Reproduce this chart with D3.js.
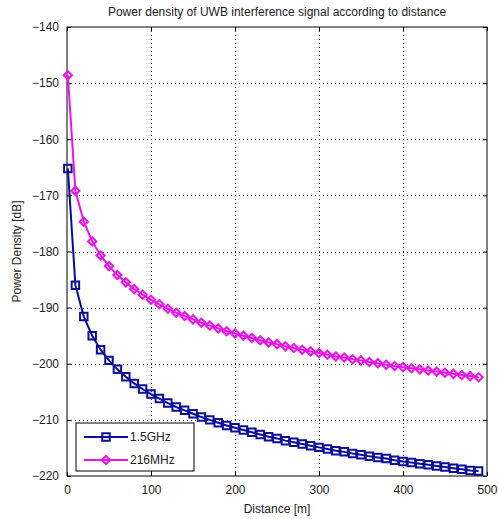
<!DOCTYPE html>
<html>
<head>
<meta charset="utf-8">
<script src="https://cdn.jsdelivr.net/npm/d3@7"></script>
<style>
  html, body { margin: 0; padding: 0; background: #fff; }
  svg { display: block; font-family: "Liberation Sans", Arial, sans-serif; }
</style>
</head>
<body>
<svg id="chart"></svg>
<script>
var distance = [1, 10, 20, 30, 40, 50, 60, 70, 80, 90,
    100, 110, 120, 130, 140, 150, 160, 170, 180, 190,
    200, 210, 220, 230, 240, 250, 260, 270, 280, 290,
    300, 310, 320, 330, 340, 350, 360, 370, 380, 390,
    400, 410, 420, 430, 440, 450, 460, 470, 480, 490];

var ghz15 = [-165.2, -186.0, -191.6, -195.0, -197.5, -199.4, -201.0, -202.3, -203.5, -204.5,
    -205.4, -206.2, -207.0, -207.7, -208.3, -208.9, -209.5, -210.0, -210.5, -211.0,
    -211.4, -211.8, -212.2, -212.6, -213.0, -213.3, -213.7, -214.0, -214.3, -214.6,
    -214.9, -215.2, -215.5, -215.7, -216.0, -216.2, -216.5, -216.7, -216.9, -217.2,
    -217.4, -217.6, -217.8, -218.0, -218.2, -218.4, -218.6, -218.8, -219.0, -219.1];

var mhz216 = [-148.6, -169.2, -174.7, -178.2, -180.7, -182.6, -184.2, -185.5, -186.7, -187.7,
    -188.6, -189.4, -190.2, -190.9, -191.5, -192.1, -192.7, -193.2, -193.7, -194.2,
    -194.6, -195.0, -195.4, -195.8, -196.2, -196.5, -196.9, -197.2, -197.5, -197.8,
    -198.1, -198.4, -198.7, -198.9, -199.2, -199.4, -199.7, -199.9, -200.2, -200.4,
    -200.6, -200.8, -201.0, -201.2, -201.4, -201.6, -201.8, -202.0, -202.2, -202.4];

var xTicks = [0, 100, 200, 300, 400, 500];
var yTicks = [-220, -210, -200, -190, -180, -170, -160, -150, -140];

var series = [
    {name: "1.5GHz", values: ghz15, color: "#0c0c9c", marker: "square"},
    {name: "216MHz", values: mhz216, color: "#ee10ee", marker: "diamond"}
];

var width = 499, height = 519;
var margin = {top: 27, right: 12, bottom: 43, left: 67};

var svg = d3.select("#chart")
    .attr("width", width)
    .attr("height", height);

var x = d3.scaleLinear()
    .domain([0, 500])
    .range([margin.left, width - margin.right]);

var y = d3.scaleLinear()
    .domain([-220, -140])
    .range([height - margin.bottom, margin.top]);

// grid
var grid = svg.append("g")
    .attr("stroke", "#333")
    .attr("stroke-width", 1)
    .attr("stroke-dasharray", "1,3");

grid.selectAll(".gx")
    .data(xTicks.slice(1, -1))
    .join("line")
    .attr("x1", d => Math.round(x(d)) + 0.5)
    .attr("x2", d => Math.round(x(d)) + 0.5)
    .attr("y1", y(-140))
    .attr("y2", y(-220));

grid.selectAll(".gy")
    .data(yTicks.slice(1, -1))
    .join("line")
    .attr("y1", d => Math.round(y(d)) + 0.5)
    .attr("y2", d => Math.round(y(d)) + 0.5)
    .attr("x1", x(0))
    .attr("x2", x(500));

// axes, MATLAB style ticks inside
var xAxis = g => g
    .attr("transform", `translate(0,${y(-220)})`)
    .call(d3.axisBottom(x).tickValues(xTicks).tickSizeInner(-4).tickSizeOuter(0).tickPadding(9))
    .call(g => g.select(".domain").remove());

var xAxisTop = g => g
    .attr("transform", `translate(0,${y(-140)})`)
    .call(d3.axisTop(x).tickValues(xTicks).tickSizeInner(-4).tickSizeOuter(0).tickFormat(""))
    .call(g => g.select(".domain").remove());

var yAxis = g => g
    .attr("transform", `translate(${x(0)},0)`)
    .call(d3.axisLeft(y).tickValues(yTicks).tickSizeInner(-4).tickSizeOuter(0).tickPadding(8))
    .call(g => g.select(".domain").remove());

var yAxisRight = g => g
    .attr("transform", `translate(${x(500)},0)`)
    .call(d3.axisRight(y).tickValues(yTicks).tickSizeInner(-4).tickSizeOuter(0).tickFormat(""))
    .call(g => g.select(".domain").remove());

[xAxis, xAxisTop, yAxis, yAxisRight].forEach(a => {
    svg.append("g")
        .call(a)
        .call(g => g.selectAll("text").attr("font-size", 12).attr("fill", "#222")
            .attr("font-family", "'Liberation Sans', Arial, sans-serif"))
        .call(g => g.selectAll("line").attr("stroke", "#000"));
});

// frame
svg.append("rect")
    .attr("x", x(0))
    .attr("y", y(-140))
    .attr("width", x(500) - x(0))
    .attr("height", y(-220) - y(-140))
    .attr("fill", "none")
    .attr("stroke", "#000")
    .attr("stroke-width", 1);

// MATLAB-like diamond: same width and height
var squareDiamond = {
    draw(ctx, size) {
        var r = Math.sqrt(size / 2);
        ctx.moveTo(0, -r);
        ctx.lineTo(r, 0);
        ctx.lineTo(0, r);
        ctx.lineTo(-r, 0);
        ctx.closePath();
    }
};

var symbolOf = m => m == "square"
    ? d3.symbol().type(d3.symbolSquare).size(56)
    : d3.symbol().type(squareDiamond).size(34);

var line = d3.line()
    .x((d, i) => x(distance[i]))
    .y(d => y(d));

series.forEach(s => {
    var g = svg.append("g");
    g.append("path")
        .attr("d", line(s.values))
        .attr("fill", "none")
        .attr("stroke", s.color)
        .attr("stroke-width", 2);
    g.selectAll("path.mk")
        .data(s.values)
        .join("path")
        .attr("class", "mk")
        .attr("transform", (d, i) => `translate(${x(distance[i])},${y(d)})`)
        .attr("d", symbolOf(s.marker))
        .attr("fill", "none")
        .attr("stroke", s.color)
        .attr("stroke-width", 2);
});

// legend
var legend = svg.append("g").attr("transform", "translate(76,423)");
legend.append("rect")
    .attr("width", 118)
    .attr("height", 48)
    .attr("fill", "#fff")
    .attr("stroke", "#000");

series.forEach((s, i) => {
    var row = legend.append("g").attr("transform", `translate(0,${14 + i * 23})`);
    row.append("line")
        .attr("x1", 8).attr("x2", 52)
        .attr("stroke", s.color).attr("stroke-width", 2);
    row.append("path")
        .attr("transform", "translate(30,0)")
        .attr("d", symbolOf(s.marker))
        .attr("fill", "none")
        .attr("stroke", s.color)
        .attr("stroke-width", 2);
    row.append("text")
        .attr("x", 54).attr("dy", "0.35em")
        .attr("font-size", 12).attr("fill", "#222")
        .text(s.name);
});

// titles
svg.append("text")
    .attr("x", (x(0) + x(500)) / 2)
    .attr("y", 16)
    .attr("text-anchor", "middle")
    .attr("font-size", 12).attr("fill", "#222")
    .text("Power density of UWB interference signal according to distance");

svg.append("text")
    .attr("x", (x(0) + x(500)) / 2)
    .attr("y", 513)
    .attr("text-anchor", "middle")
    .attr("font-size", 12).attr("fill", "#222")
    .text("Distance [m]");

svg.append("text")
    .attr("transform", `translate(21,${(y(-140) + y(-220)) / 2}) rotate(-90)`)
    .attr("text-anchor", "middle")
    .attr("font-size", 12).attr("fill", "#222")
    .text("Power Density [dB]");
</script>
</body>
</html>
